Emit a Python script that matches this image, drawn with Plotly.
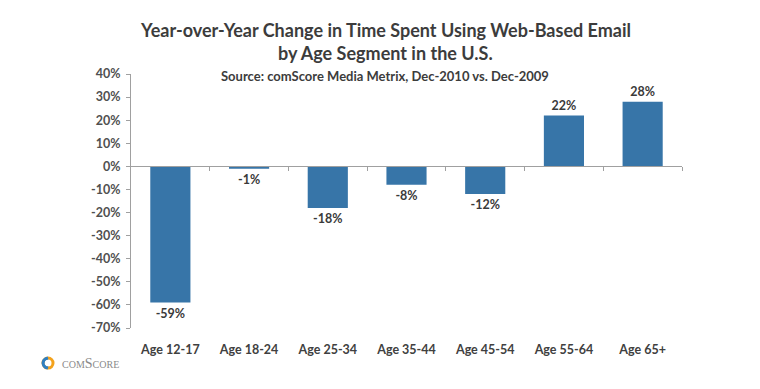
import plotly.graph_objects as go

categories = ["Age 12-17", "Age 18-24", "Age 25-34", "Age 35-44", "Age 45-54", "Age 55-64", "Age 65+"]
values = [-59, -1, -18, -8, -12, 22, 28]
value_labels = ["-59%", "-1%", "-18%", "-8%", "-12%", "22%", "28%"]
y_ticks = [40, 30, 20, 10, 0, -10, -20, -30, -40, -50, -60, -70]
y_tick_labels = ["40%", "30%", "20%", "10%", "0%", "-10%", "-20%", "-30%", "-40%", "-50%", "-60%", "-70%"]
y_min, y_max = -70, 40

FONT = "Lato"
BAR = "#3775a8"

fig = go.Figure()
fig.add_trace(go.Bar(
    x=list(range(len(categories))), y=values,
    marker=dict(color=BAR, line=dict(width=0)),
    width=0.51,
    text=value_labels, textposition="outside",
    textfont=dict(family=FONT, size=12.5, color="#3a3a3a", weight="bold"),
    cliponaxis=False, xaxis="x", yaxis="y",
))
# invisible trace to carry the zero-line category axis (xaxis2)
fig.add_trace(go.Scatter(x=[0], y=[0], mode="markers", marker=dict(opacity=0),
                         xaxis="x2", yaxis="y", hoverinfo="skip", showlegend=False))

n = len(categories)
fig.update_layout(
    width=760, height=389,
    margin=dict(l=123, r=86, t=66, b=69),
    paper_bgcolor="white", plot_bgcolor="white",
    showlegend=False,
    font=dict(family=FONT, color="#444"),
    xaxis=dict(
        range=[-0.5, n - 0.5],
        tickmode="array", tickvals=list(range(n)), ticktext=categories,
        tickfont=dict(family=FONT, size=12.5, color="#404040", weight="bold"),
        showline=False, showgrid=False, zeroline=False, ticks="",
        ticklabelstandoff=12,
    ),
    xaxis2=dict(
        range=[-0.5, n - 0.5], overlaying="x", anchor="free",
        position=(0 - y_min) / (y_max - y_min),
        tickmode="array", tickvals=[i - 0.5 for i in range(1, n + 1)],
        ticks="outside", ticklen=4, tickcolor="#a0a0a0",
        showticklabels=False, showline=True, linecolor="#a0a0a0", linewidth=1,
        showgrid=False, zeroline=False,
    ),
    yaxis=dict(
        range=[y_min, y_max],
        tickmode="array", tickvals=y_ticks, ticktext=y_tick_labels,
        tickfont=dict(family=FONT, size=12.5, color="#505050", weight="bold"),
        showline=True, linecolor="#a0a0a0", linewidth=1,
        ticks="outside", ticklen=4, tickcolor="#a0a0a0",
        ticklabelstandoff=3,
        showgrid=False, zeroline=False,
    ),
    annotations=[
        dict(text="Year-over-Year Change in Time Spent Using Web-Based Email",
             xref="paper", yref="paper", x=0.461, y=1.173, showarrow=False,
             xanchor="center", yanchor="middle",
             font=dict(family=FONT, size=18, color="#3c3c3c", weight="bold")),
        dict(text="by Age Segment in the U.S.",
             xref="paper", yref="paper", x=0.461, y=1.083, showarrow=False,
             xanchor="center", yanchor="middle",
             font=dict(family=FONT, size=18, color="#3c3c3c", weight="bold")),
        dict(text="Source: comScore Media Metrix, Dec-2010 vs. Dec-2009",
             xref="paper", yref="paper", x=0.461, y=0.992, showarrow=False,
             xanchor="center", yanchor="middle",
             font=dict(family=FONT, size=13, color="#3c3c3c", weight="bold")),
        dict(text="comScore",
             xref="paper", yref="paper", x=-0.129, y=-0.138, showarrow=False,
             xanchor="left", yanchor="middle",
             font=dict(family="Liberation Serif", size=14, color="#8a8a8a", variant="small-caps")),
    ],
    shapes=[
        dict(type="circle", xref="paper", yref="paper", xsizemode="pixel", ysizemode="pixel",
             xanchor=-0.1506, yanchor=-0.138, x0=-5, x1=5, y0=-5, y1=5,
             line=dict(color="#f3a21c", width=3)),
        dict(type="path", xref="paper", yref="paper", xsizemode="pixel", ysizemode="pixel",
             xanchor=-0.1506, yanchor=-0.138,
             path="M 0 5 L -2.5 4.3 L -4.3 2.5 L -5 0 L -4.3 -2.5 L -2.5 -4.3 L 0 -5",
             line=dict(color="#2f7fc1", width=3)),
    ],
)

fig.write_html("out.html")
